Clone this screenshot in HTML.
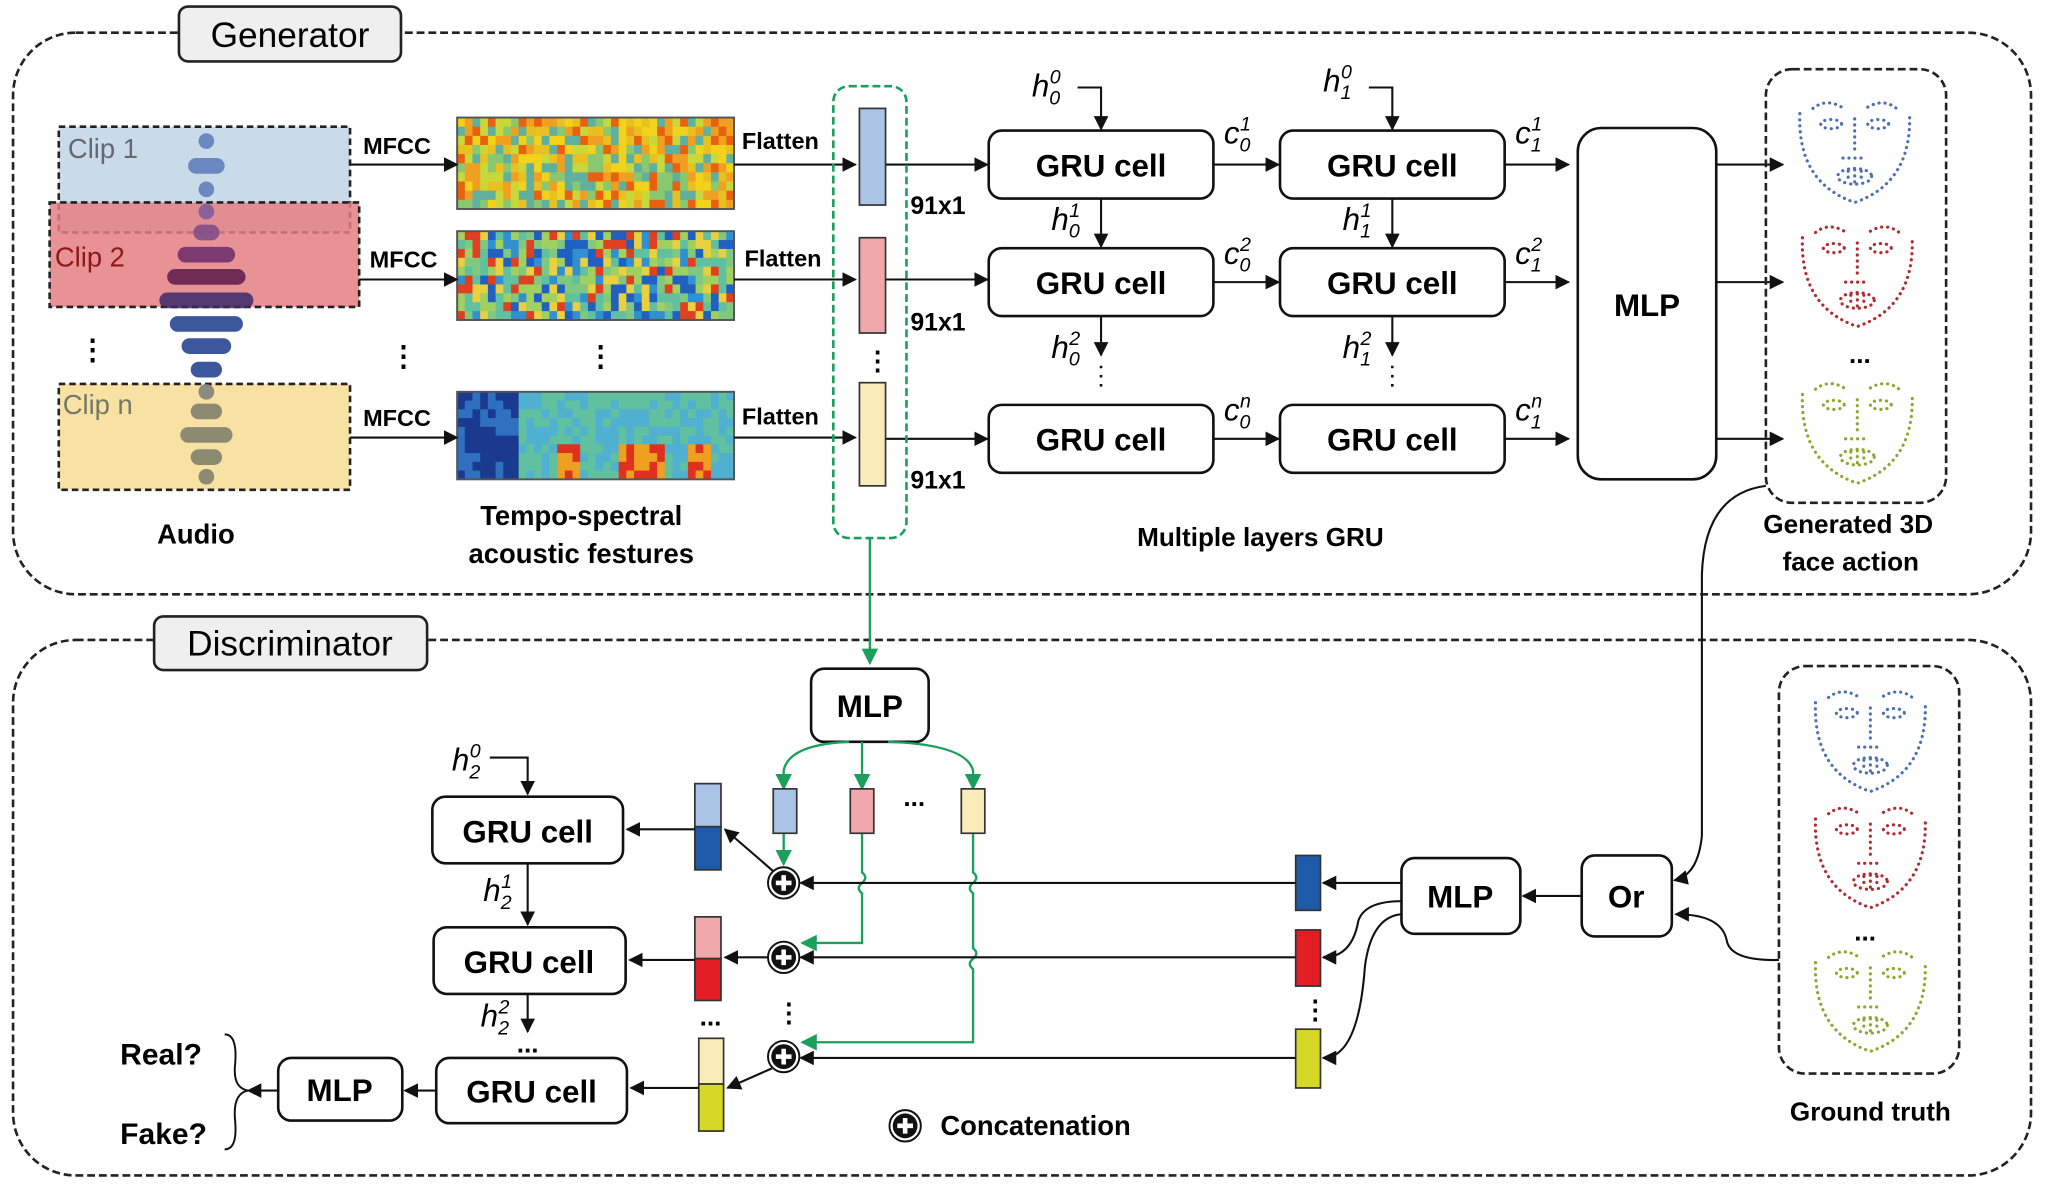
<!DOCTYPE html>
<html><head><meta charset="utf-8"><style>
html,body{margin:0;padding:0;background:#fff;}
svg{display:block;}
text{font-family:"Liberation Sans",Arial,sans-serif;}
.b{font-weight:bold;}
.m{font-family:"Liberation Serif",serif;font-style:italic;}
</style></head><body>
<svg id="s" width="2048" height="1188" viewBox="0 0 1568 909.6" preserveAspectRatio="none" xmlns="http://www.w3.org/2000/svg">
<defs>
<marker id="a" viewBox="0 0 10 10" refX="9" refY="5" markerWidth="7" markerHeight="7" orient="auto-start-reverse"><path d="M0,0L10,5L0,10z" fill="#111"/></marker>
<marker id="g" viewBox="0 0 10 10" refX="9" refY="5" markerWidth="7" markerHeight="7" orient="auto"><path d="M0,0L10,5L0,10z" fill="#1aa05a"/></marker>
<linearGradient id="wv" x1="0" y1="0" x2="1" y2="0"><stop offset="0" stop-color="#6a8cd0"/><stop offset="1" stop-color="#0a1a5a"/></linearGradient>
<g id="face" fill="none" stroke="currentColor" stroke-width="2.4" stroke-linecap="round" stroke-dasharray="0.1 4.5">
<path d="M-42,-28 Q-44,25 0,40 Q44,25 42,-28"/>
<path d="M-32,-32 Q-22,-40 -10,-33"/><path d="M10,-33 Q22,-40 32,-32"/>
<ellipse cx="-18" cy="-20" rx="8" ry="3.5"/><ellipse cx="18" cy="-20" rx="8" ry="3.5"/>
<path d="M0,-24 V2"/><path d="M-9,6 H9"/>
<ellipse cx="0" cy="20" rx="13" ry="6"/><path d="M-5,16 V24 M0,15 V25 M5,16 V24"/>
</g>
<g id="plus"><circle r="12" fill="#fff" stroke="#111" stroke-width="1.5"/><circle r="9.5" fill="#111"/><path d="M-6,0H6M0,-6V6" stroke="#fff" stroke-width="3.5"/></g>
</defs>

<!-- Generator frame -->
<rect x="10" y="25" width="1545" height="430" rx="48" fill="none" stroke="#222" stroke-width="2" stroke-dasharray="6 3"/>
<rect x="137" y="5" width="170" height="42" rx="7" fill="#efefef" stroke="#222" stroke-width="2"/>
<text x="222" y="36" font-size="27" text-anchor="middle">Generator</text>

<!-- Discriminator frame -->
<rect x="10" y="490" width="1545" height="410" rx="48" fill="none" stroke="#222" stroke-width="2" stroke-dasharray="6 3"/>
<rect x="118" y="472" width="209" height="41" rx="7" fill="#efefef" stroke="#222" stroke-width="2"/>
<text x="222" y="502" font-size="27" text-anchor="middle">Discriminator</text>

<!-- Audio clips -->
<rect x="45" y="97" width="223" height="81" fill="#c9dbe9" stroke="#222" stroke-width="2" stroke-dasharray="5 3"/>
<rect x="38" y="155" width="237" height="80" fill="#e57f82" fill-opacity="0.85" stroke="#222" stroke-width="2" stroke-dasharray="5 3"/>
<rect x="45" y="294" width="223" height="81" fill="#f7e2a4" stroke="#222" stroke-width="2" stroke-dasharray="5 3"/>
<g id="wave"></g>
<text x="52" y="121" font-size="21" fill="#667">Clip 1</text>
<text x="42" y="204" font-size="21" fill="#8a1a1a">Clip 2</text>
<text x="48" y="317" font-size="21" fill="#776">Clip n</text>
<text x="60" y="275" font-size="22" class="b">⋮</text>
<text x="150" y="416" font-size="21" class="b" text-anchor="middle">Audio</text>

<!-- spectrograms -->
<g id="spec"></g>
<rect x="350" y="90" width="212" height="70" fill="none" stroke="#555" stroke-width="1.5"/>
<rect x="350" y="177" width="212" height="68" fill="none" stroke="#555" stroke-width="1.5"/>
<rect x="350" y="300" width="212" height="67" fill="none" stroke="#555" stroke-width="1.5"/>
<text x="298" y="280" font-size="22" class="b">⋮</text>
<text x="449" y="280" font-size="22" class="b">⋮</text>
<text x="445" y="402" font-size="21" class="b" text-anchor="middle">Tempo-spectral</text>
<text x="445" y="431" font-size="21" class="b" text-anchor="middle">acoustic festures</text>

<g stroke="#111" stroke-width="1.6" fill="none" marker-end="url(#a)">
<path d="M268,126H350"/><path d="M275,214H350"/><path d="M268,335H350"/>
<path d="M562,126H655"/><path d="M562,214H655"/><path d="M562,335H655"/>
<path d="M678,126H756"/><path d="M678,214H756"/><path d="M678,336H756"/>
</g>
<g font-size="18" class="b">
<text x="278" y="118">MFCC</text><text x="283" y="205">MFCC</text><text x="278" y="326">MFCC</text>
<text x="568" y="114">Flatten</text><text x="570" y="204">Flatten</text><text x="568" y="325">Flatten</text>
<text x="697" y="164" font-size="19">91x1</text><text x="697" y="253" font-size="19">91x1</text><text x="697" y="374" font-size="19">91x1</text>
</g>

<rect x="638" y="66" width="56" height="346" rx="12" fill="none" stroke="#1aa05a" stroke-width="2" stroke-dasharray="6 3"/>
<rect x="658" y="83" width="20" height="74" fill="#a9c4e4" stroke="#333" stroke-width="1.3"/>
<rect x="658" y="182" width="20" height="73" fill="#f0a8aa" stroke="#333" stroke-width="1.3"/>
<rect x="658" y="293" width="20" height="79" fill="#f9ecbb" stroke="#333" stroke-width="1.3"/>
<text x="662" y="283" font-size="20" class="b">⋮</text>

<!-- GRU grid -->
<g fill="#fff" stroke="#111" stroke-width="2">
<rect x="757" y="100" width="172" height="52" rx="10"/><rect x="980" y="100" width="172" height="52" rx="10"/>
<rect x="757" y="190" width="172" height="52" rx="10"/><rect x="980" y="190" width="172" height="52" rx="10"/>
<rect x="757" y="310" width="172" height="52" rx="10"/><rect x="980" y="310" width="172" height="52" rx="10"/>
<rect x="1208" y="98" width="106" height="269" rx="18"/>
</g>
<g font-size="24" class="b" text-anchor="middle">
<text x="843" y="135">GRU cell</text><text x="1066" y="135">GRU cell</text>
<text x="843" y="225">GRU cell</text><text x="1066" y="225">GRU cell</text>
<text x="843" y="345">GRU cell</text><text x="1066" y="345">GRU cell</text>
<text x="1261" y="242">MLP</text>
</g>
<g stroke="#111" stroke-width="1.6" fill="none" marker-end="url(#a)">
<path d="M825,67H843V99"/><path d="M1048,67H1066V99"/>
<path d="M843,152V189"/><path d="M1066,152V189"/>
<path d="M843,242V272"/><path d="M1066,242V272"/>
<path d="M929,126H979"/><path d="M929,216H979"/><path d="M929,336H979"/>
<path d="M1152,126H1201"/><path d="M1152,216H1201"/><path d="M1152,336H1201"/>
<path d="M1314,126H1365"/><path d="M1314,216H1365"/><path d="M1314,336H1365"/>
</g>
<path d="M843,280V300M1066,280V300" stroke="#111" stroke-width="2" stroke-dasharray="2 5"/>
<g font-size="24" class="m">
<text x="790" y="74">h<tspan font-size="15" dy="6">0</tspan><tspan font-size="15" dx="-8" dy="-16">0</tspan></text>
<text x="1013" y="70">h<tspan font-size="15" dy="6">1</tspan><tspan font-size="15" dx="-8" dy="-16">0</tspan></text>
<text x="805" y="176">h<tspan font-size="15" dy="6">0</tspan><tspan font-size="15" dx="-8" dy="-16">1</tspan></text>
<text x="1028" y="176">h<tspan font-size="15" dy="6">1</tspan><tspan font-size="15" dx="-8" dy="-16">1</tspan></text>
<text x="805" y="274">h<tspan font-size="15" dy="6">0</tspan><tspan font-size="15" dx="-8" dy="-16">2</tspan></text>
<text x="1028" y="274">h<tspan font-size="15" dy="6">1</tspan><tspan font-size="15" dx="-8" dy="-16">2</tspan></text>
<text x="937" y="110">c<tspan font-size="15" dy="6">0</tspan><tspan font-size="15" dx="-8" dy="-16">1</tspan></text>
<text x="1160" y="110">c<tspan font-size="15" dy="6">1</tspan><tspan font-size="15" dx="-8" dy="-16">1</tspan></text>
<text x="937" y="202">c<tspan font-size="15" dy="6">0</tspan><tspan font-size="15" dx="-8" dy="-16">2</tspan></text>
<text x="1160" y="202">c<tspan font-size="15" dy="6">1</tspan><tspan font-size="15" dx="-8" dy="-16">2</tspan></text>
<text x="937" y="322">c<tspan font-size="15" dy="6">0</tspan><tspan font-size="15" dx="-8" dy="-16">n</tspan></text>
<text x="1160" y="322">c<tspan font-size="15" dy="6">1</tspan><tspan font-size="15" dx="-8" dy="-16">n</tspan></text>
</g>
<text x="965" y="418" font-size="20" class="b" text-anchor="middle">Multiple layers GRU</text>

<!-- generated faces -->
<rect x="1352" y="53" width="138" height="332" rx="20" fill="none" stroke="#222" stroke-width="2" stroke-dasharray="6 3"/>
<use href="#face" x="1420" y="115" color="#4a70b0"/>
<use href="#face" x="1422" y="210" color="#b02a30"/>
<text x="1424" y="278" font-size="20" class="b" text-anchor="middle">...</text>
<use href="#face" x="1422" y="330" color="#8aa830"/>
<text x="1415" y="408" font-size="20" class="b" text-anchor="middle">Generated 3D</text>
<text x="1417" y="437" font-size="20" class="b" text-anchor="middle">face action</text>

<!-- ground truth -->
<rect x="1362" y="510" width="138" height="312" rx="20" fill="none" stroke="#222" stroke-width="2" stroke-dasharray="6 3"/>
<use href="#face" x="1432" y="566" color="#4a70b0"/>
<use href="#face" x="1432" y="655" color="#b02a30"/>
<text x="1428" y="720" font-size="20" class="b" text-anchor="middle">...</text>
<use href="#face" x="1432" y="765" color="#8aa830"/>
<text x="1432" y="858" font-size="20" class="b" text-anchor="middle">Ground truth</text>

<!-- discriminator -->
<path d="M666,412V508" stroke="#1aa05a" stroke-width="1.8" fill="none" marker-end="url(#g)"/>
<g fill="#fff" stroke="#111" stroke-width="2">
<rect x="621" y="512" width="90" height="56" rx="10"/>
<rect x="331" y="610" width="146" height="51" rx="10"/>
<rect x="332" y="710" width="147" height="51" rx="10"/>
<rect x="334" y="810" width="146" height="50" rx="10"/>
<rect x="213" y="810" width="95" height="48" rx="10"/>
<rect x="1073" y="657" width="91" height="58" rx="10"/>
<rect x="1211" y="655" width="69" height="62" rx="10"/>
</g>
<g font-size="24" class="b" text-anchor="middle">
<text x="666" y="549">MLP</text>
<text x="404" y="645">GRU cell</text><text x="405" y="745">GRU cell</text><text x="407" y="844">GRU cell</text>
<text x="260" y="843">MLP</text><text x="1118" y="695">MLP</text><text x="1245" y="695">Or</text>
</g>
<!-- green branches -->
<g stroke="#1aa05a" stroke-width="1.8" fill="none">
<path d="M650,568 Q604,570 600,590V604" marker-end="url(#g)"/>
<path d="M660,568V604" marker-end="url(#g)"/>
<path d="M680,568 Q740,570 745,590V604" marker-end="url(#g)"/>
<path d="M600,638V662" marker-end="url(#g)"/>
<path d="M660,638V668 q5,4 0,8 q-5,4 0,8 V722H614" marker-end="url(#g)"/>
<path d="M745,638V668 q5,4 0,8 q-5,4 0,8 V726 q5,4 0,8 q-5,4 0,8 V798H614" marker-end="url(#g)"/>
</g>
<g stroke="#333" stroke-width="1.3">
<rect x="592" y="604" width="18" height="34" fill="#a9c4e4"/>
<rect x="651" y="604" width="18" height="34" fill="#f0a8aa"/>
<rect x="736" y="604" width="18" height="34" fill="#f9ecbb"/>
<rect x="532" y="600" width="20" height="33" fill="#a9c4e4"/><rect x="532" y="633" width="20" height="33" fill="#1e5aa8"/>
<rect x="532" y="702" width="20" height="32" fill="#f0a8aa"/><rect x="532" y="734" width="20" height="32" fill="#e21e24"/>
<rect x="535" y="795" width="19" height="35" fill="#f9ecbb"/><rect x="535" y="830" width="19" height="36" fill="#d6d826"/>
<rect x="992" y="655" width="19" height="42" fill="#1e5aa8"/>
<rect x="992" y="712" width="19" height="43" fill="#e21e24"/>
<rect x="992" y="788" width="19" height="45" fill="#d6d826"/>
</g>
<text x="700" y="617" font-size="20" class="b" text-anchor="middle">...</text>
<text x="544" y="785" font-size="20" class="b" text-anchor="middle">...</text>
<text x="404" y="806" font-size="20" class="b" text-anchor="middle">...</text>
<text x="594" y="782" font-size="20" class="b">⋮</text>
<text x="997" y="780" font-size="20" class="b">⋮</text>
<g stroke="#111" stroke-width="1.6" fill="none" marker-end="url(#a)">
<path d="M992,676H613"/><path d="M992,733H613"/><path d="M992,810H613"/>
<path d="M592,667L555,635"/><path d="M588,733H555"/><path d="M591,818L557,833"/>
<path d="M532,635H480"/><path d="M532,735H482"/><path d="M535,833H483"/>
<path d="M375,580H404V608"/><path d="M404,661V708"/><path d="M404,761V790"/>
<path d="M334,835H310"/><path d="M213,835H190"/>
<path d="M1073,676H1013"/><path d="M1073,690 Q1045,690 1040,705 Q1035,733 1013,733"/>
<path d="M1073,700 Q1050,702 1045,740 Q1040,810 1013,810"/>
<path d="M1211,686H1166"/>
<path d="M1352,372 Q1305,378 1303,440 V640 Q1300,670 1282,674"/>
<path d="M1362,735 Q1325,736 1322,720 Q1318,700 1283,700"/>
</g>
<use href="#plus" x="600" y="676"/><use href="#plus" x="600" y="733"/><use href="#plus" x="600" y="809"/>
<use href="#plus" x="693" y="862"/>
<text x="720" y="869" font-size="21" class="b">Concatenation</text>
<g font-size="24" class="m">
<text x="346" y="590">h<tspan font-size="15" dy="6">2</tspan><tspan font-size="15" dx="-8" dy="-16">0</tspan></text>
<text x="370" y="690">h<tspan font-size="15" dy="6">2</tspan><tspan font-size="15" dx="-8" dy="-16">1</tspan></text>
<text x="368" y="786">h<tspan font-size="15" dy="6">2</tspan><tspan font-size="15" dx="-8" dy="-16">2</tspan></text>
</g>
<text x="92" y="815" font-size="23" class="b">Real?</text>
<text x="92" y="876" font-size="23" class="b">Fake?</text>
<path d="M172,792 Q182,792 180,815 Q178,833 190,835 Q178,837 180,858 Q182,880 172,880" fill="none" stroke="#111" stroke-width="1.5"/>
<script>
(function(){
var ns="http://www.w3.org/2000/svg";
var w=document.getElementById("wave");
var bars=[[108,6,"#5a7ab8"],[127,14,"#5a7ab8"],[145,6,"#5a7ab8"],[162,6,"#7a5a9a"],[178,10,"#7a4a8a"],[195,22,"#6a2a6a"],[212,30,"#5a1a4a"],[230,36,"#3a2a6a"],[248,28,"#1a3a8a"],[265,19,"#1a3a8a"],[283,12,"#1a3a8a"],[300,6,"#7a7a7a"],[315,12,"#7a7a6a"],[333,20,"#7a7a6a"],[350,12,"#7a7a6a"],[365,6,"#7a7a6a"]];
bars.forEach(function(b){var r=document.createElementNS(ns,"rect");r.setAttribute("x",158-b[1]);r.setAttribute("y",b[0]-6);r.setAttribute("width",2*b[1]);r.setAttribute("height",12);r.setAttribute("rx",6);r.setAttribute("fill",b[2]);r.setAttribute("fill-opacity","0.85");w.appendChild(r);});
var s=document.getElementById("spec");
var seed=7;function rnd(){seed=(seed*16807)%2147483647;return seed/2147483647;}
var pals=[["#f2d21a","#e8c020","#c8d83a","#8ac870","#f0a020","#e86010","#60b0a0"],["#60c0a0","#80c880","#3090d0","#e8d040","#2060c0","#a0d060","#e04020"],["#2050b0","#3080d0","#40a0d0","#60c0b0","#1a3a90","#e04020","#e8c040"]];
var ys=[[90,70],[177,68],[300,67]];
for(var k=0;k<3;k++){for(var i=0;i<36;i++){for(var j=0;j<10;j++){var p=pals[k];var c=p[Math.floor(rnd()*p.length)];
if(k==2){var hot=(i>12&&i<16||i>20&&i<27||i>29&&i<33)&&j>5;c=hot?(rnd()<.5?"#e03020":"#f0a020"):(i<8?(rnd()<.6?"#1a3a90":"#3070c0"):(rnd()<.5?"#50b0d0":"#60c0a0"));}
var r=document.createElementNS(ns,"rect");r.setAttribute("x",350+i*212/36);r.setAttribute("y",ys[k][0]+j*ys[k][1]/10);r.setAttribute("width",212/36+0.5);r.setAttribute("height",ys[k][1]/10+0.5);r.setAttribute("fill",c);s.appendChild(r);}}}
})();
</script>
</svg>
</body></html>
